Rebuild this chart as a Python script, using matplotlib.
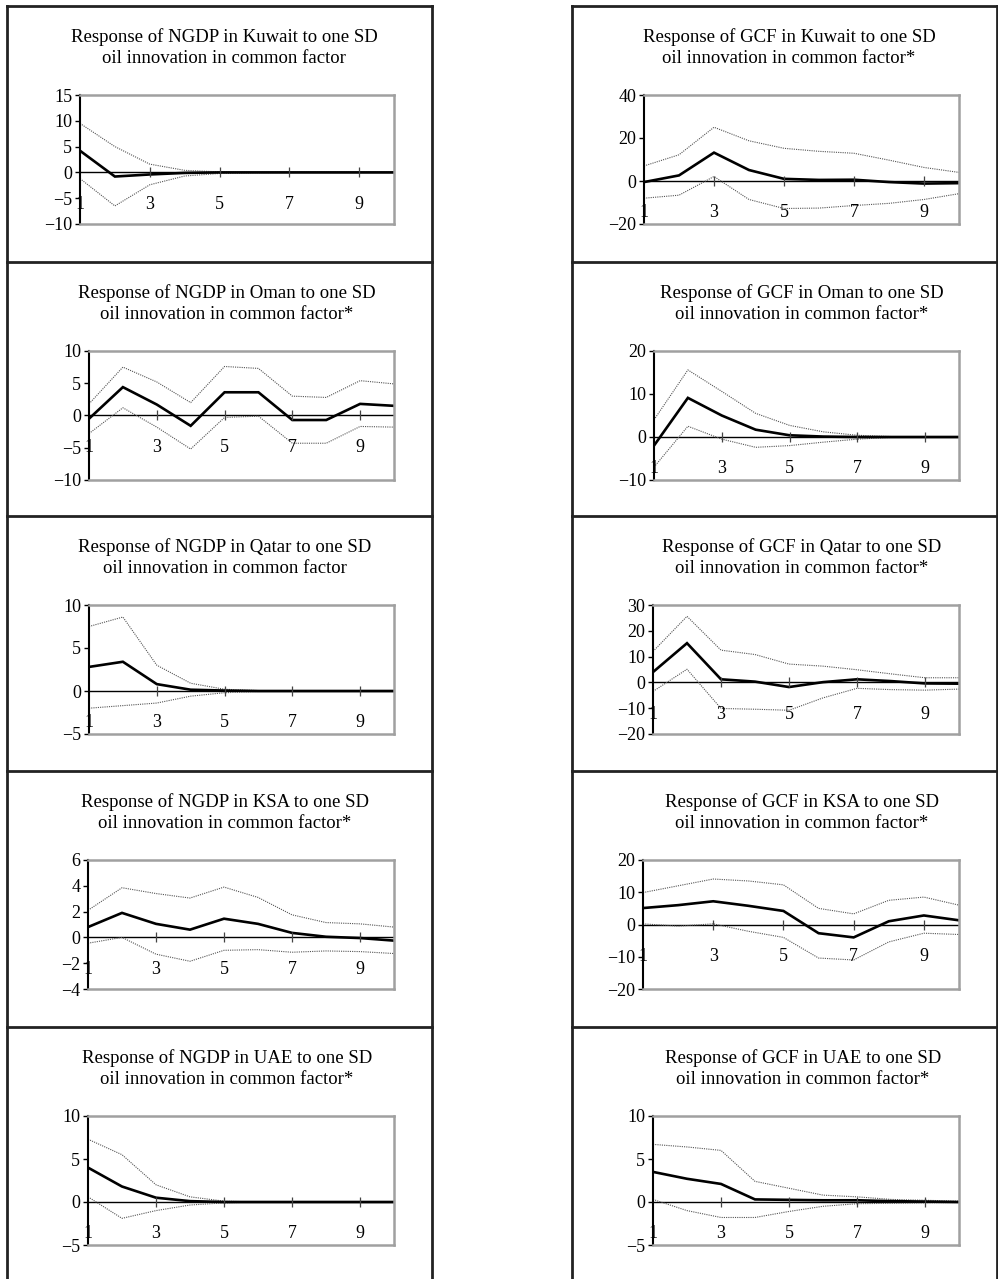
import numpy as np
import matplotlib.pyplot as plt
from matplotlib.lines import Line2D

plt.rcParams['font.family'] = ['Liberation Serif', 'DejaVu Serif']

W, H = 998, 1279
periods = [1, 2, 3, 4, 5, 6, 7, 8, 9, 10]
xlabels = [1, 3, 5, 7, 9]

titles = [
    ("Response of NGDP in Kuwait to one SD\noil innovation in common factor",
     "Response of GCF in Kuwait to one SD\noil innovation in common factor*"),
    ("Response of NGDP in Oman to one SD\noil innovation in common factor*",
     "Response of GCF in Oman to one SD\noil innovation in common factor*"),
    ("Response of NGDP in Qatar to one SD\noil innovation in common factor",
     "Response of GCF in Qatar to one SD\noil innovation in common factor*"),
    ("Response of NGDP in KSA to one SD\noil innovation in common factor*",
     "Response of GCF in KSA to one SD\noil innovation in common factor*"),
    ("Response of NGDP in UAE to one SD\noil innovation in common factor*",
     "Response of GCF in UAE to one SD\noil innovation in common factor*"),
]

# NGDP responses (left column)
ngdp_kuwait = [4.2, -0.8, -0.4, -0.1, 0.0, 0.0, 0.0, 0.0, 0.0, 0.0]
ngdp_kuwait_up = [9.5, 5.0, 1.6, 0.4, 0.1, 0.0, 0.0, 0.0, 0.0, 0.0]
ngdp_kuwait_lo = [-1.2, -6.5, -2.4, -0.7, -0.2, -0.05, 0.0, 0.0, 0.0, 0.0]

ngdp_oman = [-0.5, 4.4, 1.7, -1.6, 3.6, 3.6, -0.7, -0.7, 1.8, 1.5]
ngdp_oman_up = [1.8, 7.5, 5.2, 2.0, 7.6, 7.3, 3.0, 2.8, 5.4, 4.9]
ngdp_oman_lo = [-2.8, 1.2, -1.8, -5.2, -0.3, -0.1, -4.3, -4.3, -1.7, -1.8]

ngdp_qatar = [2.8, 3.4, 0.8, 0.15, 0.05, 0.0, 0.0, 0.0, 0.0, 0.0]
ngdp_qatar_up = [7.5, 8.6, 3.0, 0.9, 0.2, 0.05, 0.0, 0.0, 0.0, 0.0]
ngdp_qatar_lo = [-2.0, -1.7, -1.4, -0.6, -0.2, -0.05, 0.0, 0.0, 0.0, 0.0]

ngdp_ksa = [0.8, 1.9, 1.05, 0.6, 1.45, 1.05, 0.35, 0.05, -0.05, -0.25]
ngdp_ksa_up = [2.1, 3.85, 3.4, 3.05, 3.9, 3.1, 1.75, 1.15, 1.05, 0.8]
ngdp_ksa_lo = [-0.45, 0.0, -1.3, -1.85, -1.0, -0.95, -1.15, -1.05, -1.1, -1.25]

ngdp_uae = [4.0, 1.8, 0.5, 0.1, 0.0, 0.0, 0.0, 0.0, 0.0, 0.0]
ngdp_uae_up = [7.3, 5.5, 2.0, 0.6, 0.1, 0.0, 0.0, 0.0, 0.0, 0.0]
ngdp_uae_lo = [0.6, -1.9, -1.0, -0.35, -0.1, 0.0, 0.0, 0.0, 0.0, 0.0]

# GCF responses (right column)
gcf_kuwait = [-0.5, 2.6, 13.2, 5.1, 1.0, 0.5, 0.6, -0.5, -1.2, -1.0]
gcf_kuwait_up = [7.0, 12.2, 25.0, 18.7, 15.2, 13.8, 12.9, 9.7, 6.3, 4.0]
gcf_kuwait_lo = [-8.0, -6.6, 2.1, -8.6, -12.8, -12.6, -11.4, -10.4, -8.6, -5.9]

gcf_oman = [-2.0, 9.1, 5.0, 1.7, 0.4, 0.1, 0.0, 0.0, 0.0, 0.0]
gcf_oman_up = [4.0, 15.6, 10.6, 5.5, 2.7, 1.2, 0.4, 0.1, 0.0, 0.0]
gcf_oman_lo = [-7.0, 2.5, -0.5, -2.4, -2.0, -1.2, -0.5, -0.1, 0.0, 0.0]

gcf_qatar = [4.0, 15.2, 1.2, 0.3, -1.8, 0.1, 1.2, 0.5, -0.4, -0.5]
gcf_qatar_up = [12.0, 25.6, 12.5, 10.8, 7.1, 6.3, 4.9, 3.3, 1.8, 1.8]
gcf_qatar_lo = [-3.5, 5.1, -10.1, -10.4, -10.8, -6.0, -2.3, -2.8, -3.0, -2.6]

gcf_ksa = [5.1, 6.0, 7.2, 5.8, 4.2, -2.7, -4.0, 1.0, 2.8, 1.3]
gcf_ksa_up = [9.9, 12.0, 14.1, 13.5, 12.3, 5.0, 3.3, 7.5, 8.5, 6.0]
gcf_ksa_lo = [0.2, -0.5, 0.2, -2.1, -4.0, -10.4, -11.0, -5.4, -2.7, -3.1]

gcf_uae = [3.5, 2.7, 2.1, 0.3, 0.25, 0.2, 0.2, 0.1, 0.05, 0.0]
gcf_uae_up = [6.7, 6.4, 6.0, 2.4, 1.6, 0.8, 0.6, 0.3, 0.2, 0.1]
gcf_uae_lo = [0.3, -1.0, -1.8, -1.8, -1.1, -0.5, -0.2, -0.15, -0.1, -0.05]

series = [
    ((ngdp_kuwait, ngdp_kuwait_up, ngdp_kuwait_lo), (gcf_kuwait, gcf_kuwait_up, gcf_kuwait_lo)),
    ((ngdp_oman, ngdp_oman_up, ngdp_oman_lo), (gcf_oman, gcf_oman_up, gcf_oman_lo)),
    ((ngdp_qatar, ngdp_qatar_up, ngdp_qatar_lo), (gcf_qatar, gcf_qatar_up, gcf_qatar_lo)),
    ((ngdp_ksa, ngdp_ksa_up, ngdp_ksa_lo), (gcf_ksa, gcf_ksa_up, gcf_ksa_lo)),
    ((ngdp_uae, ngdp_uae_up, ngdp_uae_lo), (gcf_uae, gcf_uae_up, gcf_uae_lo)),
]

# y axis range and step (min, max, step)
yaxes = [
    ((-10, 15, 5), (-20, 40, 20)),
    ((-10, 10, 5), (-10, 20, 10)),
    ((-5, 10, 5), (-20, 30, 10)),
    ((-4, 6, 2), (-20, 20, 10)),
    ((-5, 10, 5), (-5, 10, 5)),
]

# layout in pixels
row_top = [6, 262, 516, 771, 1027]
ax_left = [[80, 644], [89, 654], [89, 653], [88, 643], [88, 653]]
ax_right = [394, 959]
title_x = [[224, 789], [227, 802], [225, 802], [225, 802], [227, 803]]
box_x = [(7, 432), (572, 997)]

fig = plt.figure(figsize=(W / 100, H / 100), dpi=100)
fig.patch.set_facecolor('white')


def fx(px):
    return px / W


def fy(py):
    return 1 - py / H


for r in range(5):
    T = row_top[r]
    for c in range(2):
        l = ax_left[r][c]
        rt = ax_right[c]
        top = T + 89
        h = 129
        ax = fig.add_axes([fx(l), fy(top + h), (rt - l) / W, h / H])
        mid, up, lo = series[r][c]
        ymin, ymax, step = yaxes[r][c]

        ax.plot(periods, up, color='#555555', lw=0.8, ls=(0, (1, 1)))
        ax.plot(periods, lo, color='#555555', lw=0.8, ls=(0, (1, 1)))
        ax.axhline(0, color='black', lw=1.0, zorder=1)
        ax.plot(periods, mid, color='black', lw=1.9, solid_joinstyle='miter')
        ax.plot(xlabels[1:], [0] * 4, ls='none', marker='|', ms=7, mew=0.9, color='#444444')

        ax.set_xlim(1, 10)
        ax.set_ylim(ymin, ymax)
        ax.set_yticks(np.arange(ymin, ymax + step / 2, step))
        ax.tick_params(axis='y', direction='out', length=3.6, width=1, pad=2, labelsize=13)
        ax.set_xticks([])
        for s in ['top', 'right', 'bottom']:
            ax.spines[s].set_color('#a0a0a0')
            ax.spines[s].set_linewidth(1.8)
        ax.spines['left'].set_color('black')
        ax.spines['left'].set_linewidth(1.5)

        for xv in xlabels:
            ax.annotate(str(xv), xy=(xv, 0), xytext=(0, -23), textcoords='offset points',
                        ha='center', va='center', fontsize=13)

        fig.text(fx(title_x[r][c]), fy(T + 41.5), titles[r][c], ha='center', va='center',
                 fontsize=13.5, linespacing=1.25)

# table borders
for x0, x1 in box_x:
    for T in row_top:
        fig.add_artist(Line2D([fx(x0), fx(x1)], [fy(T), fy(T)], color='#222222', lw=2))
    fig.add_artist(Line2D([fx(x0), fx(x0)], [fy(row_top[0]), 0], color='#222222', lw=2))
    fig.add_artist(Line2D([fx(x1), fx(x1)], [fy(row_top[0]), 0], color='#222222', lw=2))

fig.savefig('out.png', dpi=100, facecolor='white')
